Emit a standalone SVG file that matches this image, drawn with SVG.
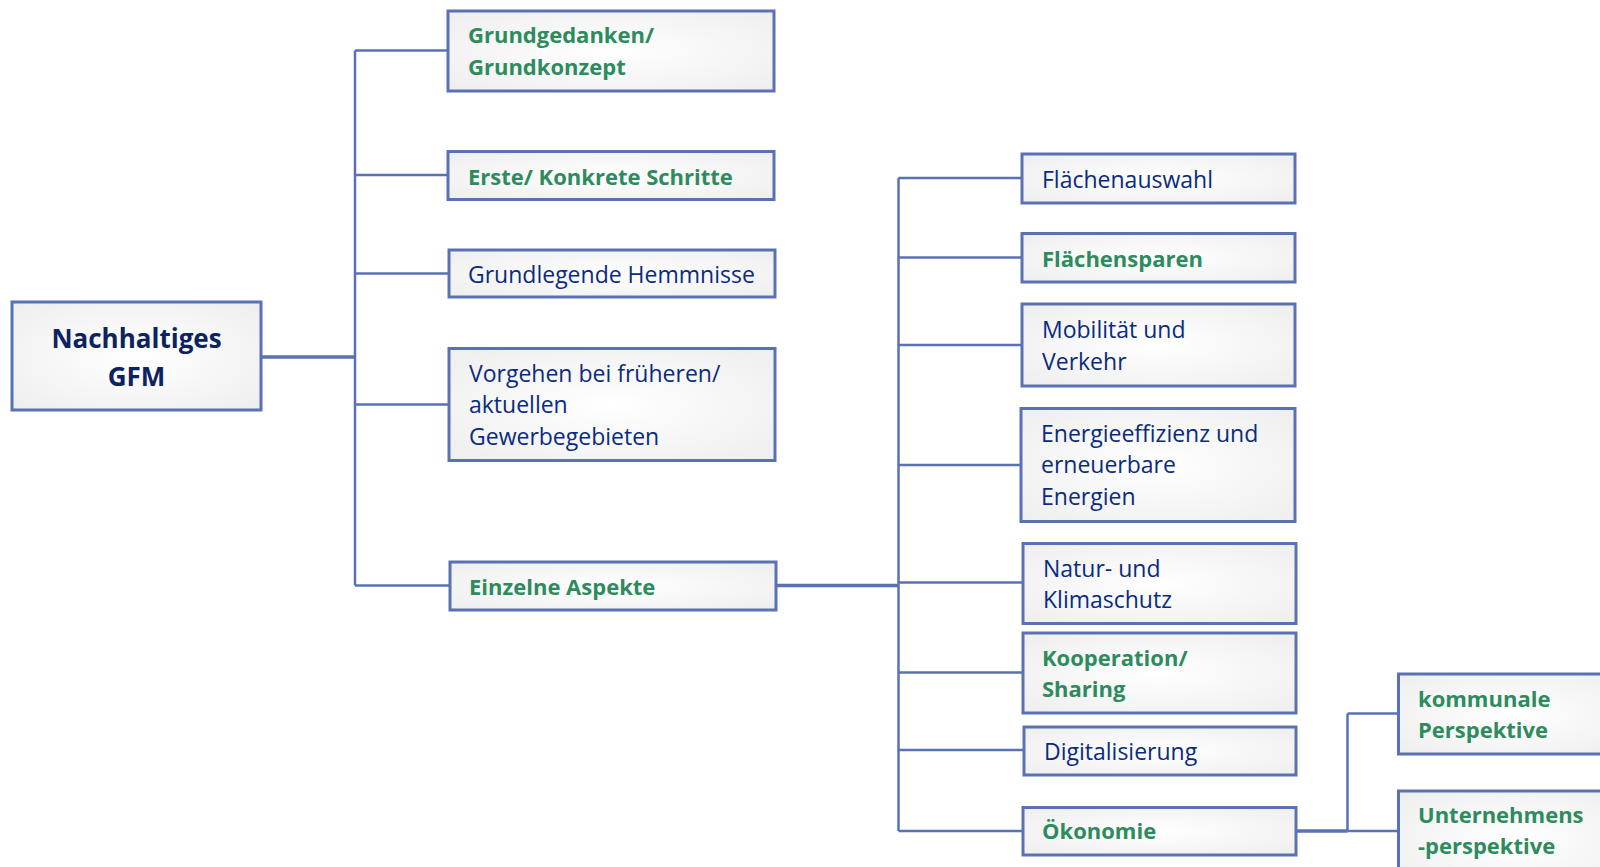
<svg xmlns="http://www.w3.org/2000/svg" width="1600" height="867" viewBox="0 0 1600 867">
  <defs>
    <radialGradient id="boxFill" cx="50%" cy="50%" r="70%">
      <stop offset="0" stop-color="#ffffff"/>
      <stop offset="1" stop-color="#eeeeee"/>
    </radialGradient>
  </defs>
  <style>
    .box { fill: url(#boxFill); stroke: #5a71b4; stroke-width: 3; }
    .lnk { fill: none; stroke: #5a71b4; stroke-width: 2.5; }
    .lnk.main { stroke-width: 3.5; }
    text { font-family: "Open Sans", "Noto Sans", "DejaVu Sans", sans-serif; font-size: 23px; }
    .blue { fill: #0a2b80; }
    .green { fill: #2e8b5e; font-weight: bold; font-size: 22px; }
    .root { fill: #0b2360; font-weight: bold; font-size: 26px; text-anchor: middle; }
  </style>

  <!-- connectors -->
  <g id="connectors">
    <path class="lnk main" d="M261,357 H355"/>
    <path class="lnk" d="M355,50.5 V585.5"/>
    <path class="lnk" d="M355,50.5 H448"/>
    <path class="lnk" d="M355,175 H448"/>
    <path class="lnk" d="M355,273.5 H449"/>
    <path class="lnk" d="M355,404.5 H449"/>
    <path class="lnk" d="M355,585.5 H450"/>

    <path class="lnk main" d="M776,585.5 H898.5"/>
    <path class="lnk" d="M898.5,178 V831"/>
    <path class="lnk" d="M898.5,178 H1022"/>
    <path class="lnk" d="M898.5,257.5 H1022"/>
    <path class="lnk" d="M898.5,345 H1022"/>
    <path class="lnk" d="M898.5,465 H1021"/>
    <path class="lnk" d="M898.5,582.5 H1023"/>
    <path class="lnk" d="M898.5,672.5 H1023"/>
    <path class="lnk" d="M898.5,750 H1024"/>
    <path class="lnk" d="M898.5,831 H1023"/>

    <path class="lnk main" d="M1296,831 H1347.5"/>
    <path class="lnk" d="M1347.5,713.5 V831"/>
    <path class="lnk" d="M1347.5,713.5 H1398.5"/>
    <path class="lnk" d="M1347.5,831 H1398.5"/>
  </g>

  <g id="node-root">
    <rect class="box" x="12" y="302" width="249" height="108"/>
    <text class="root" x="136.5" y="348">Nachhaltiges</text>
    <text class="root" x="136.5" y="386">GFM</text>
  </g>

  <g id="node-grundgedanken">
    <rect class="box" x="448" y="11" width="326" height="80"/>
    <text class="green" x="468" y="43">Grundgedanken/</text>
    <text class="green" x="468" y="75">Grundkonzept</text>
  </g>

  <g id="node-erste-schritte">
    <rect class="box" x="448" y="151.5" width="326" height="48"/>
    <text class="green" x="468" y="185">Erste/ Konkrete Schritte</text>
  </g>

  <g id="node-hemmnisse">
    <rect class="box" x="449" y="250" width="326" height="47"/>
    <text class="blue" x="468" y="282.5">Grundlegende Hemmnisse</text>
  </g>

  <g id="node-vorgehen">
    <rect class="box" x="449" y="348.5" width="326" height="112"/>
    <text class="blue" x="469" y="381.5">Vorgehen bei früheren/</text>
    <text class="blue" x="469" y="413">aktuellen</text>
    <text class="blue" x="469" y="445">Gewerbegebieten</text>
  </g>

  <g id="node-einzelne-aspekte">
    <rect class="box" x="450" y="562" width="326" height="48"/>
    <text class="green" x="469" y="595">Einzelne Aspekte</text>
  </g>

  <g id="node-flaechenauswahl">
    <rect class="box" x="1022" y="154" width="273" height="49"/>
    <text class="blue" x="1042" y="188">Flächenauswahl</text>
  </g>

  <g id="node-flaechensparen">
    <rect class="box" x="1022" y="233.5" width="273" height="48.5"/>
    <text class="green" x="1042" y="266.5">Flächensparen</text>
  </g>

  <g id="node-mobilitaet">
    <rect class="box" x="1022" y="304" width="273" height="82"/>
    <text class="blue" x="1042" y="338">Mobilität und</text>
    <text class="blue" x="1042" y="370">Verkehr</text>
  </g>

  <g id="node-energie">
    <rect class="box" x="1021" y="408.5" width="274" height="113"/>
    <text class="blue" x="1041" y="441.5">Energieeffizienz und</text>
    <text class="blue" x="1041" y="473">erneuerbare</text>
    <text class="blue" x="1041" y="505">Energien</text>
  </g>

  <g id="node-natur">
    <rect class="box" x="1023" y="543.5" width="273" height="80"/>
    <text class="blue" x="1043" y="576.5">Natur- und</text>
    <text class="blue" x="1043" y="608">Klimaschutz</text>
  </g>

  <g id="node-kooperation">
    <rect class="box" x="1023" y="633" width="273" height="80"/>
    <text class="green" x="1042" y="665.5">Kooperation/</text>
    <text class="green" x="1042" y="697">Sharing</text>
  </g>

  <g id="node-digitalisierung">
    <rect class="box" x="1024" y="727" width="272" height="48"/>
    <text class="blue" x="1044" y="760">Digitalisierung</text>
  </g>

  <g id="node-oekonomie">
    <rect class="box" x="1023" y="807.5" width="273" height="47.5"/>
    <text class="green" x="1042" y="839">Ökonomie</text>
  </g>

  <g id="node-kommunale">
    <rect class="box" x="1398.5" y="674" width="230" height="80"/>
    <text class="green" x="1418" y="706.5">kommunale</text>
    <text class="green" x="1418" y="738">Perspektive</text>
  </g>

  <g id="node-unternehmen">
    <rect class="box" x="1398.5" y="791" width="230" height="100"/>
    <text class="green" x="1418" y="823">Unternehmens</text>
    <text class="green" x="1418" y="854">-perspektive</text>
  </g>
</svg>
